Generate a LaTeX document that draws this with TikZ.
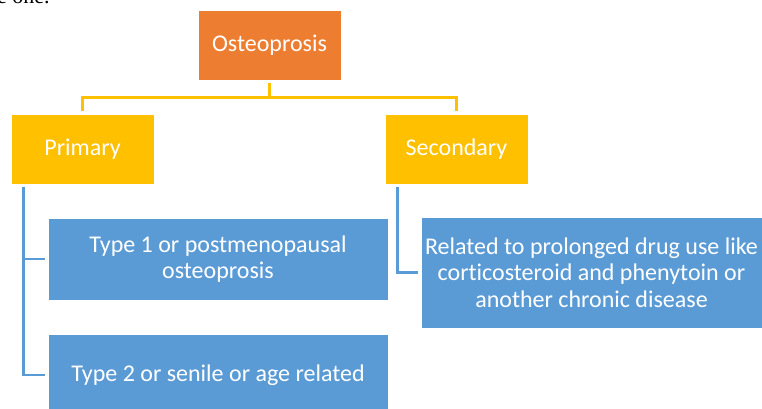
\documentclass[tikz,border=0pt]{standalone}
\usepackage{fontspec}
\setmainfont{Carlito}[Ligatures=NoCommon]
\newfontfamily\pagefont{Liberation Serif}
\usepackage{xcolor}
\usepackage{tikz}
\usetikzlibrary{positioning,calc}

\definecolor{orangebox}{HTML}{ED7D31}
\definecolor{goldbox}{HTML}{FFC000}
\definecolor{bluebox}{HTML}{5B9BD5}

\begin{document}
\begin{tikzpicture}[x=1pt, y=-1pt,
    box/.style={draw=white, line width=0.6pt, text=white, inner sep=0pt, align=center,
                font=\fontsize{24}{26.5}\selectfont},
    toplevel/.style={box, fill=orangebox, minimum width=143pt, minimum height=70pt},
    midlevel/.style={box, fill=goldbox, minimum width=143pt, minimum height=70pt},
    leaf/.style={box, fill=bluebox, minimum width=340pt},
    link/.style={line width=2.5pt, shorten <=3pt, shorten >=3pt},
    goldlink/.style={link, draw=goldbox},
    bluelink/.style={link, draw=bluebox}
  ]
    \useasboundingbox (0,0) rectangle (762,409);

    % Cut-off text of the page above
    \node[font=\pagefont\fontsize{22}{24}\selectfont, anchor=base west, inner sep=0pt] (pagetext) at (-3, 4) {e one.};

    % Root
    \node[toplevel] (root) at (269.5, 45) {Osteoprosis};

    % Kinds
    \node[midlevel] (primary)   at (82.5,  149) {Primary};
    \node[midlevel] (secondary) at (456.5, 149) {Secondary};

    % Leaves
    \node[leaf, minimum height=82pt]  (typeone) at (218,   259)   {Type 1 or postmenopausal\\osteoprosis};
    \node[leaf, minimum height=82pt]  (typetwo) at (218,   375)   {Type 2 or senile or age related};
    \node[leaf, minimum width=341pt, minimum height=111pt] (related) at (591.5, 272.5)
      {Related to prolonged drug use like\\corticosteroid and phenytoin or\\another chronic disease};

    % Root to kinds
    \draw[goldlink] (root.south) -- ++(0,17) -| (primary.north);
    \draw[goldlink] (root.south) -- ++(0,17) -| (secondary.north);

    % Kinds to leaves
    \draw[bluelink] ([xshift=13pt]primary.south west) |- (typeone.west);
    \draw[bluelink] ([xshift=13pt]primary.south west) |- (typetwo.west);
    \draw[bluelink] ([xshift=13pt]secondary.south west) |- (related.west);

  \end{tikzpicture}
\end{document}
